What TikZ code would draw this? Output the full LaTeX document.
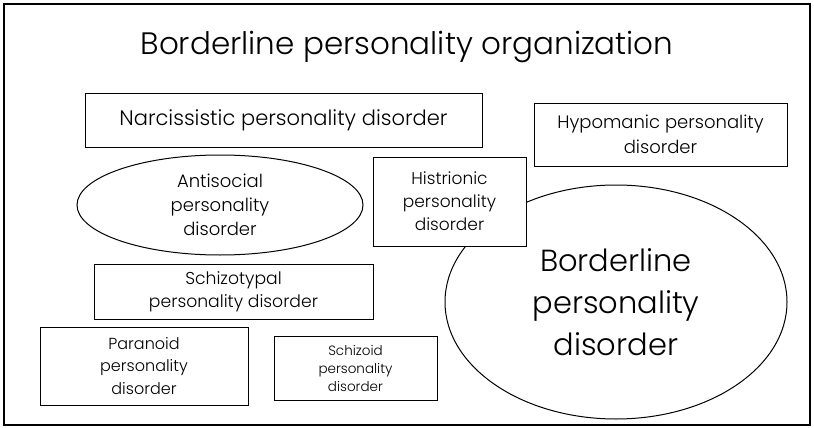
\documentclass[tikz,border=0pt]{standalone}
\usepackage{fontspec}
\setmainfont{Poppins Light}
\usetikzlibrary{shapes.geometric}
\tikzset{
  box/.style={draw,rectangle,fill=white,inner sep=0pt,align=center,line width=1pt},
  oval/.style={draw,ellipse,inner sep=0pt,align=center,line width=1pt}
}
\begin{document}
\begin{tikzpicture}[x=1pt,y=-1pt]
  \useasboundingbox (0,0) rectangle (814,428);
  \draw[line width=2pt] (4,4) rectangle (810,425);
  \node (title) at (407,47) {\fontsize{31}{38}\selectfont Borderline personality organization};
  % boxes and ovals
  \node[oval,minimum width=342pt,minimum height=234pt,font=\fontsize{30.5}{42}\selectfont] (bpd) at (616,302) {Borderline\\personality\\disorder};
  \node[box,minimum width=397pt,minimum height=54pt,font=\fontsize{21}{26}\selectfont] (narc) at (283.5,120) {Narcissistic personality disorder};
  \node[box,minimum width=253pt,minimum height=63pt,font=\fontsize{18}{25}\selectfont] (hypo) at (660.5,134.5) {Hypomanic personality\\disorder};
  \node[oval,minimum width=286pt,minimum height=100pt,font=\fontsize{18}{24}\selectfont] (anti) at (220,205) {Antisocial\\personality\\disorder};
  \node[box,minimum width=153pt,minimum height=89pt,font=\fontsize{17}{23}\selectfont] (hist) at (449.5,201.5) {Histrionic\\personality\\disorder};
  \node[box,minimum width=279pt,minimum height=55pt,font=\fontsize{17.2}{23}\selectfont] (stpl) at (233.5,291.5) {Schizotypal\\personality disorder};
  \node[box,minimum width=208pt,minimum height=78pt,font=\fontsize{16}{22.5}\selectfont] (para) at (144,366) {Paranoid\\personality\\disorder};
  \node[box,minimum width=163pt,minimum height=64pt,font=\fontsize{13.5}{18}\selectfont] (szd) at (355.5,368) {Schizoid\\personality\\disorder};
\end{tikzpicture}
\end{document}
